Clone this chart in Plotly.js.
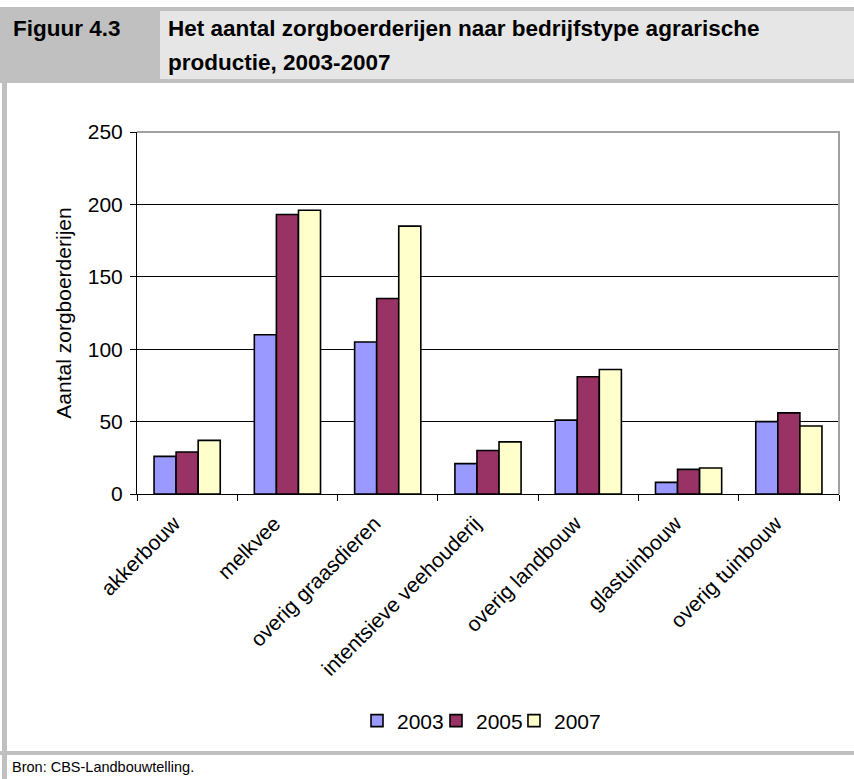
<!DOCTYPE html>
<html>
<head>
<meta charset="utf-8">
<script src="https://cdn.plot.ly/plotly-3.0.1.min.js"></script>
<style>
  html, body { margin: 0; padding: 0; background: #ffffff; }
  #page { position: relative; width: 854px; height: 779px; overflow: hidden; background: #fff; }
  #chart { position: absolute; left: 0; top: 0; width: 854px; height: 779px; }
  .blk { position: absolute; }
  .hdr { font-family: "Liberation Sans", Arial, sans-serif; font-weight: bold; font-size: 22.5px; line-height: 34px; color: #000; white-space: nowrap; }
</style>
</head>
<body>
<div id="page">
  <div id="chart"></div>
  <!-- header -->
  <div class="blk" style="left:0;top:7px;width:160px;height:76px;background:#c0c0c0;"></div>
  <div class="blk" style="left:160px;top:7px;width:694px;height:76px;background:#c0c0c0;"></div>
  <div class="blk" style="left:160px;top:11px;width:694px;height:68px;background:#e6e6e6;"></div>
  <div class="blk hdr" style="left:13px;top:12px;">Figuur 4.3</div>
  <div class="blk hdr" style="left:168px;top:12px;">Het aantal zorgboerderijen naar bedrijfstype agrarische<br>productie, 2003-2007</div>
  <!-- frame -->
  <div class="blk" style="left:2px;top:83px;width:5px;height:696px;background:#c0c0c0;"></div>
  <div class="blk" style="left:0;top:751px;width:854px;height:4px;background:#c0c0c0;"></div>
  <div class="blk" style="left:12px;top:759px;font-family:'Liberation Sans',Arial,sans-serif;font-size:14.5px;line-height:17px;color:#000;white-space:nowrap;">Bron: CBS-Landbouwtelling.</div>
</div>
<script>
const categories = ["akkerbouw", "melkvee", "overig graasdieren", "intentsieve veehouderij", "overig landbouw", "glastuinbouw", "overig tuinbouw"];
const years = ["2003", "2005", "2007"];
const v2003 = [26, 110, 105, 21, 51, 8, 50];
const v2005 = [29, 193, 135, 30, 81, 17, 56];
const v2007 = [37, 196, 185, 36, 86, 18, 47];
const colors = ["#9999ff", "#993366", "#ffffcc"];

const seriesValues = [v2003, v2005, v2007];
const FONT = '"Liberation Sans", Arial, sans-serif';
const legendIds = ['legend', 'legend2', 'legend3'];
const legendX = [0.3134, 0.4259, 0.5370];

const traces = seriesValues.map((vals, i) => ({
  type: 'bar',
  name: years[i],
  x: categories,
  y: vals,
  legend: legendIds[i],
  marker: { color: colors[i], line: { color: '#000000', width: 1.6 } },
  hoverinfo: 'x+y+name'
}));

function legendBox(x) {
  return {
    orientation: 'h',
    x: x,
    xanchor: 'left',
    y: -0.627,
    yanchor: 'middle',
    font: { family: FONT, size: 21, color: '#000000' },
    bgcolor: 'rgba(0,0,0,0)',
    borderwidth: 0,
    itemwidth: 30
  };
}

const layout = {
  width: 854,
  height: 779,
  margin: { l: 137, r: 15, t: 132, b: 285, pad: 0 },
  paper_bgcolor: 'rgba(0,0,0,0)',
  plot_bgcolor: '#ffffff',
  font: { family: FONT, size: 21, color: '#000000' },
  showlegend: true,
  barmode: 'group',
  bargap: 0.34,
  bargroupgap: 0,
  xaxis: {
    type: 'category',
    automargin: false,
    showline: true,
    linecolor: '#000000',
    linewidth: 1,
    ticks: 'outside',
    tickson: 'boundaries',
    ticklen: 6,
    tickcolor: '#000000',
    tickwidth: 1,
    tickangle: -45,
    ticklabelshift: -13,
    ticklabelstandoff: 8,
    tickfont: { family: FONT, size: 21, color: '#000000' },
    showgrid: false,
    zeroline: false
  },
  yaxis: {
    range: [0, 250],
    dtick: 50,
    tick0: 0,
    automargin: false,
    showline: true,
    linecolor: '#000000',
    linewidth: 1,
    ticks: 'outside',
    ticklen: 6,
    tickcolor: '#000000',
    tickwidth: 1,
    ticklabelstandoff: 3,
    tickfont: { family: FONT, size: 21, color: '#000000' },
    showgrid: true,
    gridcolor: '#000000',
    gridwidth: 1,
    zeroline: false,
    title: { text: 'Aantal zorgboerderijen', font: { family: FONT, size: 21, color: '#000000' }, standoff: 10 }
  },
  legend: legendBox(legendX[0]),
  legend2: legendBox(legendX[1]),
  legend3: legendBox(legendX[2]),
  shapes: [
    {
      type: 'path',
      xref: 'paper',
      yref: 'paper',
      path: 'M0,1 L1,1 L1,0',
      line: { color: '#a0a0a0', width: 2 },
      layer: 'above'
    }
  ]
};

Plotly.newPlot('chart', traces, layout, { displayModeBar: false, staticPlot: true });
</script>
</body>
</html>
